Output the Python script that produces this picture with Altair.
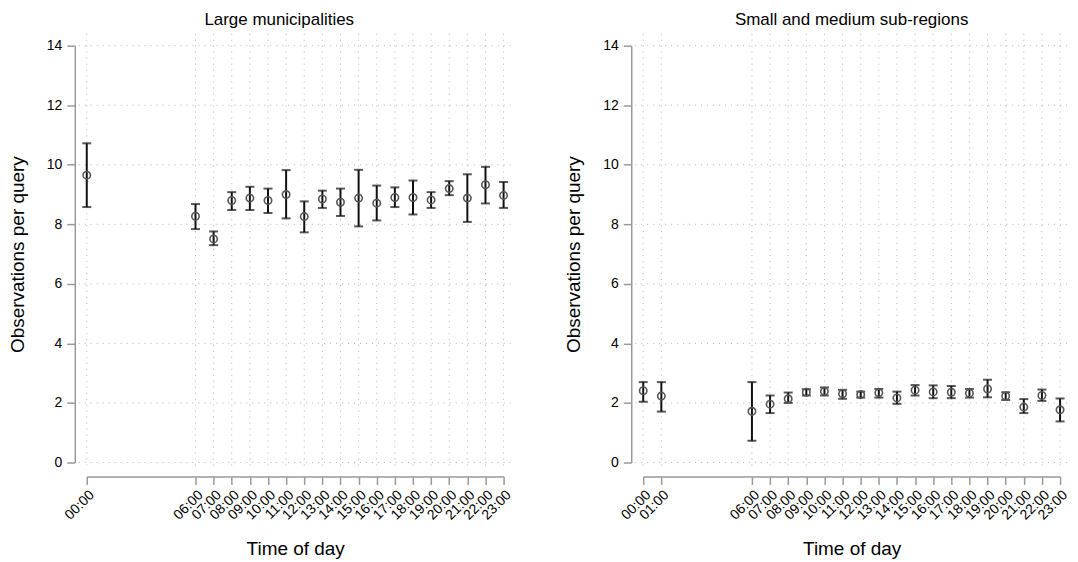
import altair as alt
import pandas as pd

FONT = "Liberation Sans"

# ---- data ----
large_hours = ["00:00", "06:00", "07:00", "08:00", "09:00", "10:00", "11:00", "12:00",
               "13:00", "14:00", "15:00", "16:00", "17:00", "18:00", "19:00", "20:00",
               "21:00", "22:00", "23:00"]
large_mean = [9.65, 8.27, 7.51, 8.80, 8.88, 8.80, 9.00, 8.26, 8.85, 8.74, 8.88, 8.71,
              8.90, 8.90, 8.82, 9.20, 8.88, 9.33, 8.97]
large_lo = [8.58, 7.84, 7.30, 8.48, 8.48, 8.38, 8.20, 7.73, 8.55, 8.28, 7.93, 8.13,
            8.58, 8.33, 8.55, 8.98, 8.08, 8.70, 8.55]
large_hi = [10.72, 8.68, 7.76, 9.08, 9.26, 9.20, 9.82, 8.77, 9.13, 9.20, 9.83, 9.30,
            9.24, 9.47, 9.08, 9.45, 9.68, 9.93, 9.42]

small_hours = ["00:00", "01:00", "06:00", "07:00", "08:00", "09:00", "10:00", "11:00",
               "12:00", "13:00", "14:00", "15:00", "16:00", "17:00", "18:00", "19:00",
               "20:00", "21:00", "22:00", "23:00"]
small_mean = [2.41, 2.23, 1.72, 1.96, 2.14, 2.36, 2.39, 2.31, 2.28, 2.34, 2.17, 2.43,
              2.37, 2.36, 2.33, 2.47, 2.23, 1.86, 2.25, 1.77]
small_lo = [2.04, 1.71, 0.73, 1.66, 2.00, 2.25, 2.25, 2.14, 2.18, 2.18, 1.97, 2.25,
            2.16, 2.16, 2.18, 2.19, 2.10, 1.66, 2.07, 1.38]
small_hi = [2.70, 2.70, 2.70, 2.25, 2.35, 2.46, 2.52, 2.44, 2.38, 2.47, 2.38, 2.60,
            2.59, 2.57, 2.47, 2.78, 2.36, 2.13, 2.45, 2.15]

y_ticks = [0, 2, 4, 6, 8, 10, 12, 14]

W = 418
H = 418
GRID_COLOR = "#b4b4b4"
AXIS_COLOR = "#9a9a9a"


def panel(title, hours, mean, lo, hi, title_dx):
    hour_num = [int(h[:2]) for h in hours]
    df = pd.DataFrame({"hour": hour_num, "label": hours, "mean": mean, "lo": lo, "hi": hi})
    xs = alt.Scale(domain=[0, 23], nice=False, zero=False)
    ys = alt.Scale(domain=[0, 14], nice=False)
    common = dict(domainColor=AXIS_COLOR, domainWidth=1.5, tickColor=AXIS_COLOR,
                  tickWidth=1.5, labelColor="#000000", labelFont=FONT, labelFontSize=14,
                  titleFont=FONT, titleFontSize=19, titleFontWeight="normal",
                  titleColor="#000000", grid=False, tickSize=8)
    xaxis = alt.Axis(values=hour_num, labelExpr="format(datum.value, '02d') + ':00'",
                     labelAngle=315, title="Time of day", offset=14,
                     labelPadding=3, titlePadding=18, labelOverlap=False, **common)
    yaxis = alt.Axis(values=y_ticks, offset=12, title="Observations per query",
                     labelPadding=5, titlePadding=19, **common)

    def X(field):
        return alt.X(field, scale=xs, axis=xaxis, title="Time of day")

    def Y(field):
        return alt.Y(field, scale=ys, axis=yaxis, title="Observations per query")

    base = alt.Chart(df)
    hgrid = alt.Chart(pd.DataFrame({"v": y_ticks})).mark_rule(
        color=GRID_COLOR, strokeWidth=1, strokeDash=[1, 5]).encode(
        y=Y("v:Q"),
        x=alt.value(-8),
        x2=alt.value(W + 12),
    )
    vgrid = alt.Chart(pd.DataFrame({"h": hour_num})).mark_rule(
        color=GRID_COLOR, strokeWidth=1, strokeDash=[1, 5]).encode(
        x=X("h:Q"),
        y=alt.value(-12),
        y2=alt.value(H + 7),
    )
    rules = base.mark_rule(color="#111111", strokeWidth=2).encode(
        x=X("hour:Q"),
        y=Y("lo:Q"),
        y2="hi:Q",
    )
    cap_lo = base.mark_tick(orient="horizontal", size=9, thickness=2, color="#111111").encode(
        x=X("hour:Q"),
        y=Y("lo:Q"),
    )
    cap_hi = base.mark_tick(orient="horizontal", size=9, thickness=2, color="#111111").encode(
        x=X("hour:Q"),
        y=Y("hi:Q"),
    )
    pts = base.mark_point(shape="circle", filled=False, size=55, strokeWidth=1.6,
                          color="#555555", opacity=1).encode(
        x=X("hour:Q"),
        y=Y("mean:Q"),
    )
    return alt.layer(hgrid, vgrid, rules, cap_lo, cap_hi, pts).properties(
        width=W, height=H,
        title=alt.TitleParams(title, fontSize=17, fontWeight="normal", font=FONT,
                              anchor="middle", frame="group", offset=4, dx=title_dx,
                              color="#000000"),
    )


left = panel("Large municipalities", large_hours, large_mean, large_lo, large_hi, -16)
right = panel("Small and medium sub-regions", small_hours, small_mean, small_lo, small_hi, 0)

chart = alt.hconcat(left, right, spacing=48).properties(
    padding={"left": 8, "top": 10, "right": 5, "bottom": 5},
    background="white",
).configure_view(stroke=None)

chart.save("out.html", embed_options={"renderer": "svg", "actions": False})
